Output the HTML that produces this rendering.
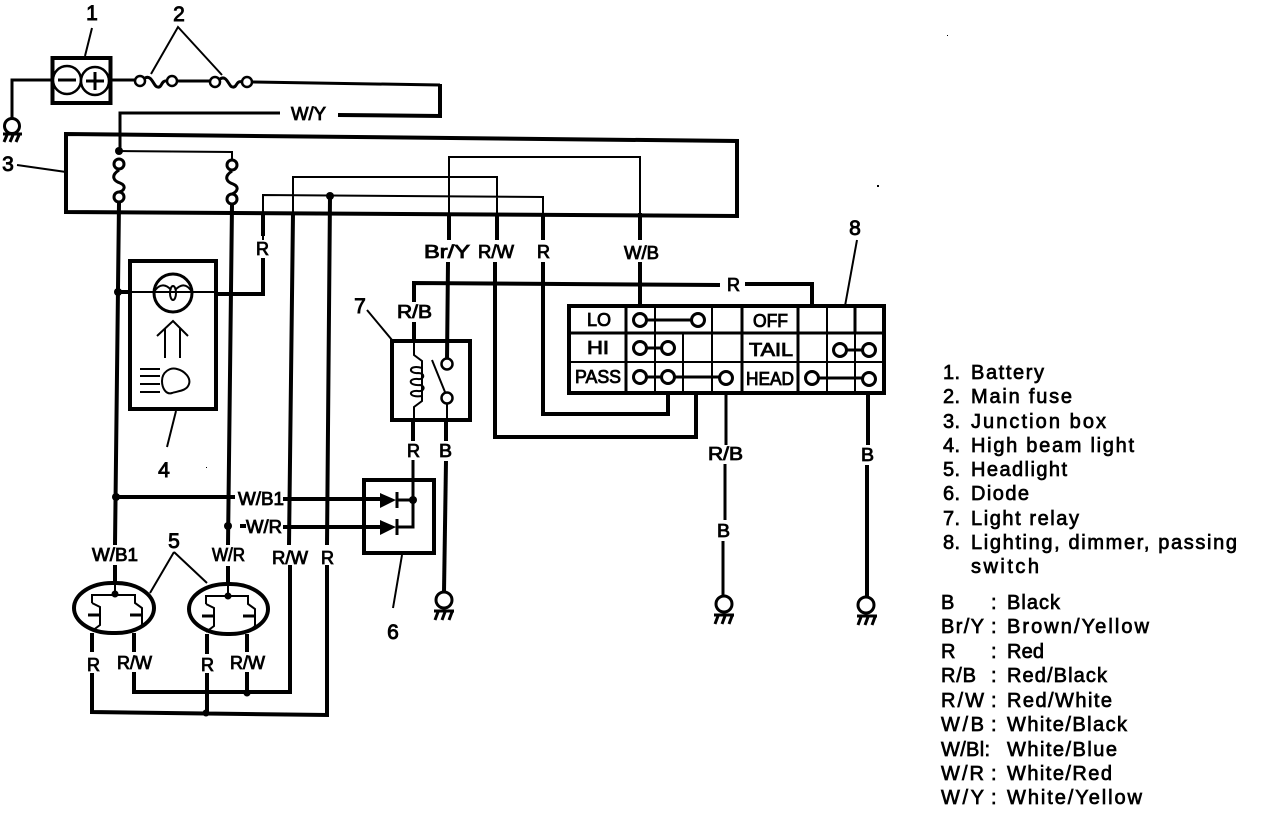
<!DOCTYPE html>
<html><head><meta charset="utf-8"><style>
html,body{margin:0;padding:0;background:#fff}
svg{display:block}
text{font-family:"Liberation Sans",Arial,sans-serif;fill:#000;stroke:#000}
.l{font-size:18px;stroke-width:.85;text-anchor:start}
.n{font-size:21px;stroke-width:.9;text-anchor:middle}
.t{font-size:20px;stroke-width:.7}
.th{fill:none;stroke:#000;stroke-width:4}
.m{fill:none;stroke:#000;stroke-width:3}
.s{fill:none;stroke:#000;stroke-width:2}
.c{fill:#fff;stroke:#000;stroke-width:2.5}
</style></head><body>
<svg width="1264" height="816" viewBox="0 0 1264 816" xmlns="http://www.w3.org/2000/svg">
<!-- top: battery and fuses -->
<path class="m" d="M52 80H12V118"/>
<rect x="52.500" y="58" width="58" height="45" class="th"/>
<circle cx="67" cy="80" r="14" class="c"/><circle cx="95" cy="81" r="14" class="c"/>
<path class="m" d="M58 80H76M86 81H104M95 72V90"/>
<circle cx="12" cy="126" r="7.500" class="c" style="stroke-width:3"/>
<path class="m" d="M3 134H22M7 135L4 142M13 135L10 142M19 135L16 142"/>
<path class="m" d="M111 80H135M177 81H210M252 82L440 85"/>
<circle cx="140" cy="81" r="5" class="c"/><circle cx="172" cy="81" r="5" class="c"/>
<circle cx="215" cy="82" r="5" class="c"/><circle cx="247" cy="82" r="5" class="c"/>
<path class="m" d="M145 78C152 74 154 88 158 87C162 88 161 80 167 81M220 79C227 74 229 88 233 87C237 88 236 80 242 82"/>
<path class="s" d="M85 56L92 28M151 74L178 27L222 75"/>
<path class="th" d="M440 84V116L338 115"/>
<path class="m" d="M280 113L120 113V150"/>
<!-- junction box -->
<path class="th" d="M66 134L737 141V216L66 212Z"/>
<path class="s" d="M119 151L232 152V160M293 240V177H497V240M263 240V195L543 197V240M449 240V157H640V240"/>
<path class="m" d="M119 170C110 176 114 181 120 183C127 186 124 191 119 192M232 171C223 177 227 182 233 184C240 187 237 192 232 194"/>
<circle cx="119" cy="151" r="4"/>
<circle cx="330" cy="196" r="4"/>
<g class="c" style="stroke-width:3"><circle cx="119" cy="164" r="5"/><circle cx="119" cy="197" r="5"/><circle cx="232" cy="165" r="5"/><circle cx="232" cy="199" r="5"/></g>
<!-- verticals -->
<path class="th" d="M119 203L115 545M232 205L228 545"/>
<path class="th" d="M263 213V236M263 258V294H216M118 292H130"/>
<path class="s" d="M130 292H216"/>
<circle cx="118" cy="292" r="4"/>
<path class="th" d="M293 213L289 545M330 196L327 545"/>
<path class="th" d="M449 213V240M448 262L447 360"/>
<path class="th" d="M497 213V240M543 213V240M640 213V240"/>
<text class="l" x="256" y="255" textLength="13" lengthAdjust="spacingAndGlyphs">R</text>
<text class="l" x="291" y="120" textLength="35" lengthAdjust="spacingAndGlyphs">W/Y</text>
<text class="l" x="424" y="258" textLength="46" lengthAdjust="spacingAndGlyphs">Br/Y</text>
<text class="l" x="478" y="258" textLength="36" lengthAdjust="spacingAndGlyphs">R/W</text>
<text class="l" x="537" y="258" textLength="13" lengthAdjust="spacingAndGlyphs">R</text>
<text class="l" x="624" y="259" textLength="35" lengthAdjust="spacingAndGlyphs">W/B</text>
<path class="th" d="M495 262V437H696V393M543 262V414H668V393M640 262V305"/>
<path class="th" d="M414 302V283L720 285M745 284H812V306"/>
<text class="l" x="727" y="291" textLength="13" lengthAdjust="spacingAndGlyphs">R</text>
<!-- high beam -->
<rect x="130" y="261" width="86" height="148" class="th"/>
<circle cx="173" cy="293" r="19" fill="#fff" class="m"/>
<path class="s" d="M154 292C160 282 167 285 171 290M175 290C180 285 186 282 192 292"/>
<ellipse cx="173" cy="293" rx="3" ry="7" class="s"/>
<path class="s" d="M165 358V328M180 358V328M157 336L173 321L188 336"/>
<path class="s" d="M140 369H160M140 376H160M140 384H160M140 392H160"/>
<path class="s" d="M162 381C162 372 170 367 177 369C185 371 191 378 189 384C187 391 178 391 172 393C166 395 162 388 162 381Z"/>
<path class="s" d="M176 411L167 447"/>
<text class="n" x="164" y="477">4</text>
<!-- relay -->
<rect x="392" y="341" width="78" height="79" class="th"/>
<path class="th" d="M414 322V340"/>
<path class="s" d="M414 341V355L422 361V401L414 407V421"/>
<path class="s" d="M422 368C408 364 408 374 418 373C426 373 424 380 418 379C408 378 408 386 420 385C426 386 424 392 418 391C408 390 408 398 422 396"/>
<circle cx="447" cy="364" r="5.500" class="c"/><circle cx="447" cy="398" r="5.500" class="c"/>
<path class="s" d="M432 360L445 392M447 404V421"/>
<text class="n" x="360" y="313">7</text>
<path class="s" d="M367 310L392 340"/>
<text class="l" x="397" y="318" textLength="35" lengthAdjust="spacingAndGlyphs">R/B</text>
<path class="th" d="M413 421V441M446 421V441"/>
<text class="l" x="407" y="457" textLength="13" lengthAdjust="spacingAndGlyphs">R</text>
<text class="l" x="439" y="457" textLength="13" lengthAdjust="spacingAndGlyphs">B</text>
<path class="m" d="M413 460V527H398M413 500H398"/>
<path class="th" d="M446 461L444 592"/>
<circle cx="444" cy="600" r="8" class="c" style="stroke-width:3"/>
<path class="m" d="M434 611H454M438 612L435 620M445 612L442 620M452 612L449 620"/>
<!-- diode -->
<path class="th" d="M364 480H434V553H364Z"/>
<circle cx="413" cy="500" r="4"/>
<path d="M380 493L396 500L380 508ZM380 520L396 527L380 535Z"/>
<path class="m" d="M397 492V508M397 519V535"/>
<path class="th" d="M116 497H235M283 499H380M240 526H246M283 527H380"/>
<circle cx="116" cy="497" r="4"/><circle cx="228" cy="526" r="4"/>
<text class="l" x="238" y="505" textLength="46" lengthAdjust="spacingAndGlyphs">W/B1</text>
<text class="l" x="246" y="533" textLength="36" lengthAdjust="spacingAndGlyphs">W/R</text>
<path class="s" d="M402 555L393 608"/>
<text class="n" x="393" y="639">6</text>
<!-- switch -->
<rect x="569" y="306" width="315" height="87" class="th"/>
<path class="s" d="M569 333H884M569 362H884M626 306V393M655 306V393M683 333V393M712 306V393M742 306V393M798 306V393M827 306V393M855 306V393"/>
<path class="m" d="M626 306V393M742 306V393M798 306V393M855 306V333M569 333H884"/>
<path class="m" d="M647 320H691M647 348H661M647 377H661M675 377H719M847 350H862M819 378H862"/>
<g class="c" style="stroke-width:3">
<circle cx="640" cy="320" r="6.500"/><circle cx="698" cy="320" r="6.500"/><circle cx="640" cy="348" r="6.500"/><circle cx="668" cy="348" r="6.500"/><circle cx="640" cy="377" r="6.500"/><circle cx="668" cy="377" r="6.500"/><circle cx="726" cy="378" r="6.500"/><circle cx="840" cy="350" r="6.500"/><circle cx="869" cy="350" r="6.500"/><circle cx="812" cy="378" r="6.500"/><circle cx="869" cy="379" r="6.500"/>
</g>
<text class="l" x="587" y="326" textLength="24" lengthAdjust="spacingAndGlyphs">LO</text>
<text class="l" x="587" y="354" textLength="22" lengthAdjust="spacingAndGlyphs">HI</text>
<text class="l" x="575" y="383" textLength="46" lengthAdjust="spacingAndGlyphs">PASS</text>
<text class="l" x="753" y="327" textLength="35" lengthAdjust="spacingAndGlyphs">OFF</text>
<text class="l" x="749" y="356" textLength="44" lengthAdjust="spacingAndGlyphs">TAIL</text>
<text class="l" x="746" y="385" textLength="48" lengthAdjust="spacingAndGlyphs">HEAD</text>
<text class="n" x="855" y="235">8</text>
<path class="s" d="M857 240L845 306"/>
<path class="m" d="M726 393V445M725 464V520M723 541V596"/>
<path class="th" d="M868 393V445M867 465V598"/>
<text class="l" x="708" y="460" textLength="35" lengthAdjust="spacingAndGlyphs">R/B</text>
<text class="l" x="861" y="461" textLength="13" lengthAdjust="spacingAndGlyphs">B</text>
<text class="l" x="717" y="537" textLength="13" lengthAdjust="spacingAndGlyphs">B</text>
<circle cx="724" cy="604" r="8" class="c" style="stroke-width:3"/>
<path class="m" d="M714 615H734M718 616L715 624M725 616L722 624M732 616L729 624"/>
<circle cx="866" cy="605" r="8" class="c" style="stroke-width:3"/>
<path class="m" d="M857 616H877M861 617L858 625M868 617L865 625M875 617L872 625"/>
<!-- headlights -->
<text class="l" x="92" y="561" textLength="46" lengthAdjust="spacingAndGlyphs">W/B1</text>
<text class="l" x="212" y="561" textLength="33" lengthAdjust="spacingAndGlyphs">W/R</text>
<text class="l" x="272" y="564" textLength="36" lengthAdjust="spacingAndGlyphs">R/W</text>
<text class="l" x="321" y="564" textLength="13" lengthAdjust="spacingAndGlyphs">R</text>
<text class="n" x="174" y="548">5</text>
<path class="s" d="M174 552L150 593M174 552L207 583"/>
<path class="th" d="M115 565V584M228 566V584"/>
<rect x="74" y="583" width="80" height="50" rx="38" ry="25" class="th"/>
<rect x="189" y="584" width="79" height="50" rx="38" ry="25" class="th"/>
<path class="s" d="M115 584V595M228 584V595"/>
<path class="s" d="M92 603V595H135V603L142 608V625L135 631M92 603L100 607V625L92 631M206 604V596H248V604L255 609V626L248 632M206 604L214 608V626L206 632"/>
<circle cx="115" cy="594" r="3.500"/><circle cx="228" cy="596" r="3.500"/>
<path class="m" d="M88 615H100M130 615H142M202 616H214M243 616H255"/>
<path class="th" d="M92 633V652M134 633V652M207 634V654M247 634V652"/>
<text class="l" x="87" y="671" textLength="13" lengthAdjust="spacingAndGlyphs">R</text>
<text class="l" x="117" y="669" textLength="35" lengthAdjust="spacingAndGlyphs">R/W</text>
<text class="l" x="201" y="671" textLength="13" lengthAdjust="spacingAndGlyphs">R</text>
<text class="l" x="230" y="669" textLength="35" lengthAdjust="spacingAndGlyphs">R/W</text>
<path class="th" d="M134 672V692H290V565M92 673V712L327 715V565M207 673V715M247 672V692"/>
<circle cx="247" cy="693" r="3.500"/><circle cx="206" cy="713" r="3.500"/>
<!-- callouts -->
<text class="n" x="92" y="20">1</text>
<text class="n" x="179" y="21">2</text>
<text class="n" x="8" y="171">3</text>
<path class="s" d="M17 165L66 172"/>
<!-- legend -->
<text class="t" x="943" y="379" textLength="17">1.</text><text class="t" x="971" y="379" textLength="73">Battery</text>
<text class="t" x="943" y="403" textLength="17">2.</text><text class="t" x="971" y="403" textLength="101">Main fuse</text>
<text class="t" x="943" y="428" textLength="17">3.</text><text class="t" x="971" y="428" textLength="135">Junction box</text>
<text class="t" x="943" y="452" textLength="17">4.</text><text class="t" x="971" y="452" textLength="163">High beam light</text>
<text class="t" x="943" y="476" textLength="17">5.</text><text class="t" x="971" y="476" textLength="96">Headlight</text>
<text class="t" x="943" y="500" textLength="17">6.</text><text class="t" x="971" y="500" textLength="58">Diode</text>
<text class="t" x="943" y="525" textLength="17">7.</text><text class="t" x="971" y="525" textLength="108">Light relay</text>
<text class="t" x="943" y="549" textLength="17">8.</text><text class="t" x="971" y="549" textLength="266">Lighting, dimmer, passing</text>
<text class="t" x="971" y="573" textLength="68">switch</text>
<text class="t" x="941" y="609" textLength="13">B</text><text class="t" x="991" y="609">:</text><text class="t" x="1007" y="609" textLength="53">Black</text>
<text class="t" x="941" y="633" textLength="43">Br/Y</text><text class="t" x="991" y="633">:</text><text class="t" x="1007" y="633" textLength="142">Brown/Yellow</text>
<text class="t" x="941" y="658" textLength="14">R</text><text class="t" x="991" y="658">:</text><text class="t" x="1007" y="658" textLength="37">Red</text>
<text class="t" x="941" y="682" textLength="35">R/B</text><text class="t" x="991" y="682">:</text><text class="t" x="1007" y="682" textLength="100">Red/Black</text>
<text class="t" x="941" y="707" textLength="43">R/W</text><text class="t" x="991" y="707">:</text><text class="t" x="1007" y="707" textLength="105">Red/White</text>
<text class="t" x="941" y="731" textLength="43">W/B</text><text class="t" x="991" y="731">:</text><text class="t" x="1007" y="731" textLength="120">White/Black</text>
<text class="t" x="941" y="756" textLength="49">W/Bl:</text><text class="t" x="1007" y="756" textLength="110">White/Blue</text>
<text class="t" x="941" y="780" textLength="43">W/R</text><text class="t" x="991" y="780">:</text><text class="t" x="1007" y="780" textLength="105">White/Red</text>
<text class="t" x="941" y="804" textLength="43">W/Y</text><text class="t" x="991" y="804">:</text><text class="t" x="1007" y="804" textLength="135">White/Yellow</text>
<!-- specks -->
<rect x="947" y="35" width="1" height="1"/><rect x="877" y="185" width="2" height="2"/><rect x="206" y="467" width="1" height="1"/>
</svg>
</body></html>
